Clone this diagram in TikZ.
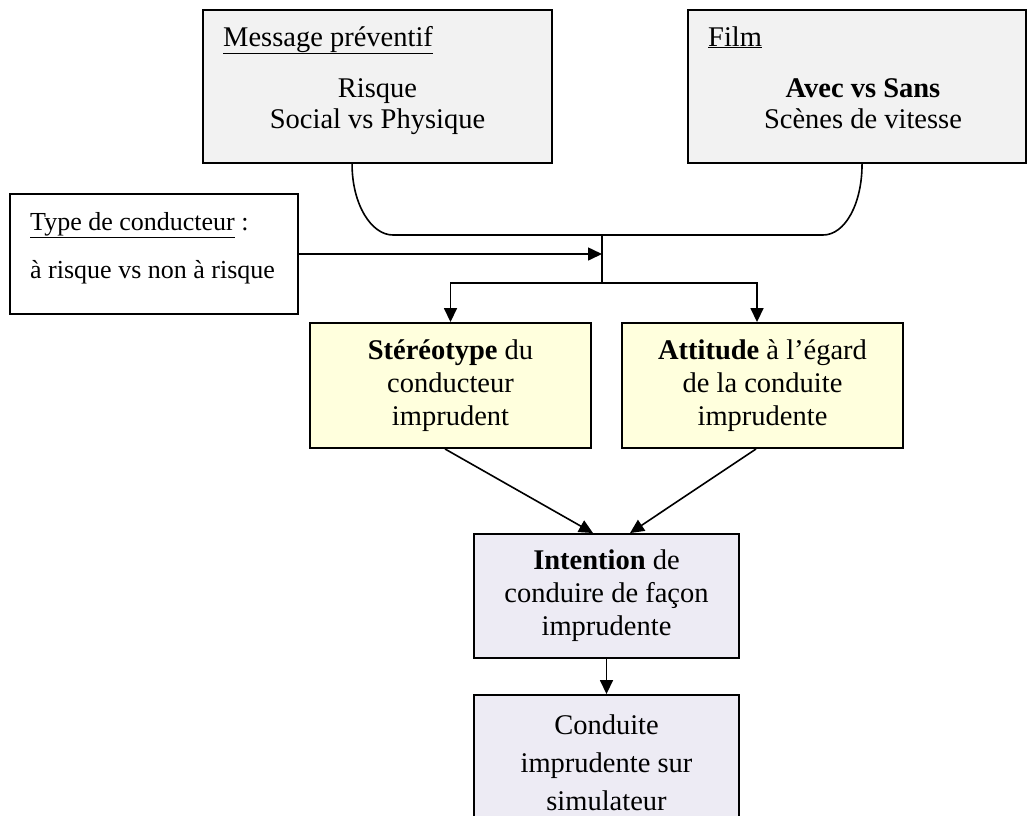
\documentclass[tikz,border=0pt]{standalone}
\usepackage{fontspec}
\setmainfont{Liberation Serif}
\usetikzlibrary{arrows.meta}
\definecolor{boxgray}{HTML}{F2F2F2}
\definecolor{boxyellow}{HTML}{FFFFDD}
\definecolor{boxlav}{HTML}{EDEBF4}
\begin{document}
\begin{tikzpicture}[x=1pt,y=-1pt,
  box/.style={draw=black, line width=1.9pt, rectangle, inner sep=0pt, align=center},
  big/.style={font=\fontsize{28.5}{33}\selectfont},
  small/.style={font=\fontsize{26}{30}\selectfont},
  lbl/.style={inner sep=0pt},
  conn/.style={line width=1.6pt},
  arr/.style={conn, -{Triangle[length=14pt,width=13pt]}},
]
\useasboundingbox (0,0) rectangle (1028,815);
\fill[white] (0,0) rectangle (1028,815);

% top boxes
\node[box, fill=boxgray, minimum width=349pt, minimum height=153pt] (msg) at (377.5,86.5) {};
\node[big, lbl, anchor=base west] (msgtitle) at (223,46) {\underline{Message préventif}};
\node[big, lbl, anchor=base] (msgrisk) at (377.5,97) {Risque};
\node[big, lbl, anchor=base] (msgsoc) at (377.5,128) {Social vs Physique};

\node[box, fill=boxgray, minimum width=338pt, minimum height=153pt] (film) at (857,86.5) {};
\node[big, lbl, anchor=base west] (filmtitle) at (708,46) {\underline{Film}};
\node[big, lbl, anchor=base] (filmavec) at (863,97) {\textbf{Avec vs Sans}};
\node[big, lbl, anchor=base] (filmsc) at (863,128) {Scènes de vitesse};

% left box
\node[box, fill=white, minimum width=288pt, minimum height=120pt] (typ) at (154,254) {};
\node[small, lbl, anchor=base west] (typtitle) at (30,230) {\underline{Type de conducteur} :};
\node[small, lbl, anchor=base west] (typval) at (30,278) {à risque vs non à risque};

% middle boxes
\node[box, big, fill=boxyellow, minimum width=281pt, minimum height=125pt] (ster) at (450.5,385.5)
  {\textbf{Stéréotype} du\\conducteur\\imprudent};
\node[box, big, fill=boxyellow, minimum width=281pt, minimum height=125pt] (att) at (762.5,385.5)
  {\textbf{Attitude} à l’égard\\de la conduite\\imprudente};

% lower boxes
\node[box, big, fill=boxlav, minimum width=265pt, minimum height=124pt] (int) at (606.5,596)
  {\textbf{Intention} de\\conduire de façon\\imprudente};
\node[box, fill=boxlav, minimum width=265pt, minimum height=135pt,
  font=\fontsize{28.5}{38}\selectfont] (cond) at (606.5,762.5)
  {Conduite\\imprudente sur\\simulateur};

% connectors
\path (msg.south west) ++(150,0) coordinate (msgL);
\path (film.south west) ++(175,0) coordinate (filmR);
\coordinate (j1) at (602,235);
\coordinate (j2) at (602,283);
\draw[conn] (msgL) .. controls +(0,40) and +(-22,0) .. (393,235) -- (823,235)
  .. controls +(22,0) and +(0,40) .. (filmR);
\draw[conn] (j1) -- (j2);
\draw[arr] (typ.east) -- (typ.east -| j1);
\draw[arr] (j2) -| (ster.north);
\draw[arr] (j2) -| ([xshift=-5.5pt]att.north);
\draw[arr] ([xshift=-5.5pt]ster.south) -- ([xshift=-13.5pt]int.north);
\draw[arr] ([xshift=-6.5pt]att.south) -- ([xshift=23.5pt]int.north);
\draw[arr] (int) -- (cond);
\end{tikzpicture}
\end{document}
